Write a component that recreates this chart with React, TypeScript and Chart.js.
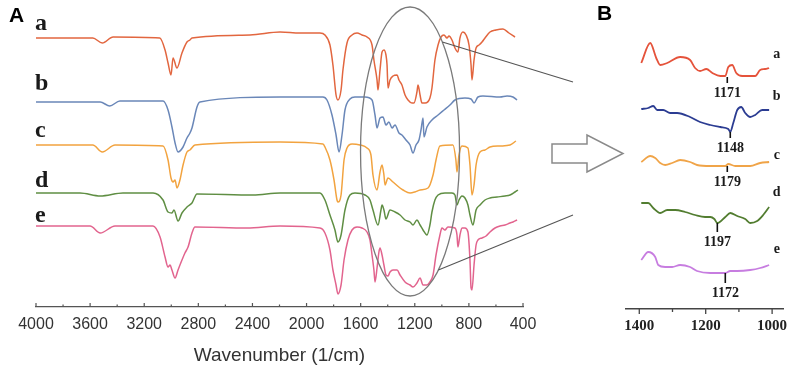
import React, { useEffect, useRef } from "react";
import { Chart, registerables } from "chart.js";
Chart.register(...registerables);

// ---------- Panel A: full FTIR spectra (wavenumber, offset transmittance) ----------
const specA_a: [number, number][] = [
  [4000, 269], [3580, 269], [3510, 264], [3430, 270], [3085, 269], [3046, 257], [3024, 244], [3002, 232],
  [2987, 249], [2958, 239], [2921, 254], [2884, 265], [2862, 267], [2847, 269], [2418, 272], [2196, 275],
  [2049, 274], [1901, 274], [1864, 272], [1827, 262], [1805, 242], [1782, 212], [1768, 207], [1745, 217],
  [1731, 237], [1701, 264], [1664, 272], [1627, 274], [1590, 272], [1553, 270], [1516, 262], [1502, 247],
  [1479, 227], [1472, 217], [1457, 237], [1442, 255], [1428, 257], [1413, 252], [1405, 242], [1398, 219],
  [1383, 227], [1361, 231], [1331, 232], [1317, 227], [1295, 222], [1272, 212], [1250, 207], [1221, 204],
  [1206, 204], [1184, 215], [1176, 222], [1161, 212], [1147, 204], [1124, 204], [1088, 209], [1073, 219],
  [1051, 247], [1028, 262], [1006, 270], [984, 272], [962, 269], [947, 271], [925, 267], [903, 259],
  [881, 255], [866, 269], [844, 275], [821, 272], [799, 262], [784, 242], [777, 227], [762, 247],
  [747, 259], [725, 262], [703, 265], [681, 269], [644, 275], [600, 277], [548, 278], [504, 274], [459, 270],
];
const specA_b: [number, number][] = [
  [4000, 205], [3525, 205], [3455, 201], [3380, 206], [3061, 206], [3024, 197], [2995, 180], [2972, 164],
  [2950, 155], [2913, 160], [2884, 169], [2862, 174], [2847, 179], [2810, 200], [2788, 205], [2196, 210],
  [1879, 210], [1849, 207], [1812, 192], [1782, 172], [1760, 155], [1738, 172], [1716, 197], [1679, 208],
  [1642, 210], [1568, 210], [1516, 207], [1494, 192], [1479, 179], [1457, 189], [1435, 190], [1413, 182],
  [1391, 185], [1368, 179], [1346, 182], [1317, 174], [1295, 172], [1265, 167], [1235, 162], [1213, 154],
  [1191, 162], [1169, 167], [1154, 177], [1139, 189], [1132, 170], [1110, 180], [1073, 187], [1028, 192],
  [984, 197], [940, 202], [903, 207], [829, 209], [784, 208], [762, 204], [733, 210], [696, 211],
  [570, 210], [518, 211], [474, 210], [444, 207],
];
const specA_c: [number, number][] = [
  [4000, 162], [3580, 162], [3510, 155], [3416, 162], [3061, 161], [3024, 147], [3002, 129], [2987, 125],
  [2972, 127], [2958, 119], [2936, 127], [2913, 142], [2884, 155], [2862, 157], [2825, 162], [2196, 165],
  [1879, 163], [1864, 160], [1827, 147], [1797, 127], [1775, 107], [1768, 105], [1745, 112], [1723, 147],
  [1701, 159], [1664, 163], [1605, 162], [1553, 159], [1524, 152], [1509, 132], [1479, 117], [1457, 135],
  [1442, 142], [1428, 132], [1420, 122], [1398, 129], [1361, 125], [1309, 119], [1287, 117], [1235, 114],
  [1199, 115], [1161, 117], [1102, 119], [1065, 132], [1043, 147], [1014, 161], [918, 162], [896, 147],
  [888, 135], [873, 152], [851, 161], [807, 159], [792, 142], [777, 112], [762, 122], [747, 142],
  [718, 155], [681, 157], [644, 160], [570, 161], [496, 162], [452, 166],
];
const specA_d: [number, number][] = [
  [4000, 114], [3675, 114], [3525, 111], [3357, 114], [3135, 114], [3061, 107], [3024, 95], [2995, 94],
  [2980, 97], [2950, 86], [2921, 94], [2884, 100], [2847, 104], [2810, 113], [2396, 112], [2196, 114],
  [1901, 114], [1864, 107], [1827, 92], [1790, 77], [1768, 65], [1745, 72], [1716, 97], [1679, 112],
  [1642, 114], [1568, 112], [1531, 107], [1509, 97], [1472, 82], [1450, 97], [1442, 102], [1428, 97],
  [1413, 88], [1383, 97], [1346, 95], [1309, 92], [1272, 87], [1235, 85], [1213, 82], [1184, 87],
  [1161, 82], [1139, 77], [1110, 72], [1088, 82], [1073, 95], [1051, 107], [1028, 112], [977, 114],
  [925, 114], [903, 112], [888, 102], [873, 107], [851, 111], [829, 109], [807, 102], [792, 92],
  [770, 82], [747, 97], [718, 102], [681, 107], [644, 109], [592, 110], [533, 111], [496, 112],
  [459, 115], [437, 117],
];
const specA_e: [number, number][] = [
  [4000, 81], [3600, 81], [3525, 74], [3416, 81], [3135, 81], [3083, 70], [3046, 50], [3024, 40],
  [3009, 42], [2995, 37], [2972, 29], [2950, 37], [2921, 47], [2899, 54], [2876, 60], [2847, 74],
  [2825, 80], [2440, 79], [2196, 81], [1901, 79], [1864, 74], [1827, 57], [1805, 37], [1782, 22],
  [1768, 13], [1745, 22], [1723, 47], [1694, 67], [1664, 77], [1627, 80], [1590, 79], [1553, 75],
  [1531, 67], [1516, 52], [1502, 37], [1494, 25], [1479, 39], [1465, 55], [1457, 59], [1442, 52],
  [1428, 42], [1413, 32], [1398, 31], [1383, 35], [1361, 37], [1331, 37], [1309, 32], [1272, 25],
  [1235, 22], [1213, 20], [1184, 24], [1161, 29], [1139, 22], [1110, 22], [1088, 25], [1065, 32],
  [1043, 52], [1014, 72], [999, 79], [977, 77], [955, 80], [903, 79], [888, 72], [881, 60],
  [866, 72], [851, 79], [829, 79], [807, 75], [792, 47], [784, 19], [777, 17], [762, 42],
  [747, 62], [733, 67], [703, 69], [673, 71], [644, 75], [607, 79], [570, 81], [533, 82],
  [496, 84], [474, 85], [444, 87],
];

// ---------- Panel B: zoom 1400-1000 cm-1 ----------
const specB_a: [number, number][] = [
  [1394, 246], [1367, 266], [1349, 251], [1337, 244], [1316, 246], [1277, 252], [1247, 249], [1232, 241],
  [1217, 238], [1198, 240], [1180, 236], [1156, 233], [1141, 233], [1132, 242], [1120, 244], [1108, 236],
  [1090, 233], [1051, 233], [1036, 239], [1021, 240], [1009, 241],
];
const specB_b: [number, number][] = [
  [1394, 200], [1373, 201], [1358, 203], [1346, 199], [1328, 199], [1307, 196], [1286, 196], [1247, 192],
  [1217, 187], [1186, 184], [1156, 182], [1132, 180], [1126, 177], [1117, 186], [1105, 199], [1093, 202],
  [1081, 196], [1066, 192], [1051, 194], [1030, 199], [1009, 199],
];
const specB_c: [number, number][] = [
  [1394, 147], [1367, 153], [1352, 151], [1337, 146], [1322, 144], [1301, 146], [1277, 149], [1247, 147],
  [1226, 144], [1186, 143], [1141, 143], [1132, 145], [1111, 143], [1066, 143], [1036, 146], [1009, 147],
];
const specB_d: [number, number][] = [
  [1394, 106], [1373, 106], [1358, 101], [1337, 96], [1316, 99], [1292, 99], [1262, 97], [1232, 94],
  [1202, 92], [1186, 92], [1174, 90], [1165, 86], [1141, 92], [1126, 96], [1105, 93], [1081, 90],
  [1066, 86], [1045, 88], [1027, 94], [1009, 102],
];
const specB_e: [number, number][] = [
  [1394, 49], [1373, 57], [1352, 52], [1343, 44], [1322, 42], [1301, 42], [1277, 44], [1247, 42],
  [1226, 38], [1186, 36], [1141, 36], [1126, 38], [1105, 38], [1066, 39], [1036, 41], [1009, 44],
];

const seriesNames = ["a", "b", "c", "d", "e"];
const colorsA = ["#e2663f", "#6a87b8", "#f2a33f", "#5f8e43", "#e2648e"];
const colorsB = ["#e5533b", "#2b3c92", "#f0a448", "#527d30", "#c77de0"];
const letterValsA = [277, 217, 170, 120, 85];
const letterValsB = [255, 213, 154, 117, 60];
const markWave = [1135, 1126, 1135, 1165, 1141];
const markTop = [232, 177, 143, 86, 36];
const markBottom = [226, 171, 137, 77, 26];
const markLabels = ["1171", "1148", "1179", "1197", "1172"];

const SANS = '"Liberation Sans", Arial, sans-serif';
const SERIF = '"Liberation Serif", "Times New Roman", serif';

const toXY = (arr: [number, number][]) => arr.map(([x, y]) => ({ x, y }));

export default function App() {
  const refA = useRef<HTMLCanvasElement>(null);
  const refB = useRef<HTMLCanvasElement>(null);

  useEffect(() => {
    const specsA = [specA_a, specA_b, specA_c, specA_d, specA_e];
    const specsB = [specB_a, specB_b, specB_c, specB_d, specB_e];

    const decoA = {
      id: "decoA",
      afterDraw(chart: any) {
        const { ctx, chartArea } = chart;
        const x = chart.scales.x;
        const y = chart.scales.y;
        ctx.save();
        // inward ticks
        ctx.strokeStyle = "#555";
        ctx.lineWidth = 1.2;
        x.ticks.forEach((t: any) => {
          const px = x.getPixelForValue(t.value);
          const len = t.value % 400 === 0 ? 4 : 2.5;
          ctx.beginPath();
          ctx.moveTo(px, chartArea.bottom);
          ctx.lineTo(px, chartArea.bottom - len);
          ctx.stroke();
        });
        // series letters
        ctx.fillStyle = "#1a1a1a";
        ctx.font = `bold 24px ${SERIF}`;
        ctx.textAlign = "left";
        ctx.textBaseline = "alphabetic";
        seriesNames.forEach((n, i) => {
          ctx.fillText(n, chartArea.left - 1, y.getPixelForValue(letterValsA[i]));
        });
        // ellipse around 1600-870 cm-1
        const cx = x.getPixelForValue(1235);
        const rx = Math.abs(x.getPixelForValue(1601) - cx);
        const cy = y.getPixelForValue(155.5);
        const ry = Math.abs(y.getPixelForValue(300) - cy);
        ctx.strokeStyle = "#7a7a7a";
        ctx.lineWidth = 1.3;
        ctx.beginPath();
        ctx.ellipse(cx, cy, rx, ry, 0, 0, Math.PI * 2);
        ctx.stroke();
        // connector lines
        const pt = (py: number) => {
          const t = (py - cy) / ry;
          return cx + rx * Math.sqrt(Math.max(0, 1 - t * t));
        };
        ctx.strokeStyle = "#555";
        ctx.lineWidth = 1.1;
        ctx.beginPath();
        ctx.moveTo(pt(42), 42);
        ctx.lineTo(573, 82);
        ctx.moveTo(pt(270), 270);
        ctx.lineTo(573, 215);
        ctx.stroke();
        // block arrow
        ctx.strokeStyle = "#8a8a8a";
        ctx.lineWidth = 1.5;
        ctx.beginPath();
        ctx.moveTo(552, 144);
        ctx.lineTo(587, 144);
        ctx.lineTo(587, 135);
        ctx.lineTo(623, 153.5);
        ctx.lineTo(587, 172);
        ctx.lineTo(587, 163);
        ctx.lineTo(552, 163);
        ctx.closePath();
        ctx.stroke();
        // panel labels
        ctx.fillStyle = "#000";
        ctx.font = `bold 21px ${SANS}`;
        ctx.textBaseline = "middle";
        ctx.fillText("A", 9, 16);
        ctx.fillText("B", 597, 14);
        ctx.restore();
      },
    };

    const decoB = {
      id: "decoB",
      afterDraw(chart: any) {
        const { ctx, chartArea } = chart;
        const x = chart.scales.x;
        const y = chart.scales.y;
        ctx.save();
        ctx.strokeStyle = "#444";
        ctx.lineWidth = 1.3;
        x.ticks.forEach((t: any) => {
          const px = x.getPixelForValue(t.value);
          const len = t.value % 200 === 0 ? 5 : 3;
          ctx.beginPath();
          ctx.moveTo(px, chartArea.bottom);
          ctx.lineTo(px, chartArea.bottom + len);
          ctx.stroke();
        });
        // markers
        ctx.strokeStyle = "#111";
        ctx.lineWidth = 1.6;
        ctx.fillStyle = "#1a1a1a";
        ctx.font = `bold 14px ${SERIF}`;
        ctx.textAlign = "center";
        ctx.textBaseline = "middle";
        markWave.forEach((w, i) => {
          const px = x.getPixelForValue(w);
          const y0 = y.getPixelForValue(markTop[i]);
          const y1 = y.getPixelForValue(markBottom[i]);
          ctx.beginPath();
          ctx.moveTo(px, y0);
          ctx.lineTo(px, y1);
          ctx.stroke();
          ctx.fillText(markLabels[i], px, y1 + 10);
        });
        // letters
        seriesNames.forEach((n, i) => {
          ctx.fillText(n, chartArea.right - 7, y.getPixelForValue(letterValsB[i]));
        });
        ctx.restore();
      },
    };

    const chartA = new Chart(refA.current!, {
      type: "line",
      data: {
        datasets: specsA.map((s, i) => ({
          label: seriesNames[i],
          data: toXY(s),
          borderColor: colorsA[i],
          borderWidth: 1.5,
          pointRadius: 0,
          fill: false,
          cubicInterpolationMode: "monotone" as const,
        })),
      },
      options: {
        responsive: false,
        animation: false,
        events: [],
        layout: { padding: { left: 36, right: 273, top: 5, bottom: 0 } },
        plugins: { legend: { display: false }, tooltip: { enabled: false } },
        scales: {
          x: {
            type: "linear",
            reverse: true,
            min: 400,
            max: 4000,
            afterFit: (s: any) => {
              s.height = 62;
            },
            grid: { display: false, drawTicks: false },
            border: { display: true, color: "#555", width: 1.3 },
            ticks: {
              stepSize: 200,
              autoSkip: false,
              maxRotation: 0,
              padding: 8,
              color: "#333",
              font: { family: SANS, size: 16 },
              callback: (v: any) => (Number(v) % 400 === 0 ? String(v) : ""),
            },
            title: {
              display: true,
              text: "Wavenumber (1/cm)",
              color: "#333",
              font: { family: SANS, size: 19 },
              padding: 2,
            },
          },
          y: { display: false, min: 0, max: 302 },
        },
      },
      plugins: [decoA],
    } as any);

    const chartB = new Chart(refB.current!, {
      type: "line",
      data: {
        datasets: specsB.map((s, i) => ({
          label: seriesNames[i],
          data: toXY(s),
          borderColor: colorsB[i],
          borderWidth: 1.8,
          pointRadius: 0,
          fill: false,
          cubicInterpolationMode: "monotone" as const,
        })),
      },
      options: {
        responsive: false,
        animation: false,
        events: [],
        layout: { padding: { left: 36, right: 12, top: 5, bottom: 0 } },
        plugins: { legend: { display: false }, tooltip: { enabled: false } },
        scales: {
          x: {
            type: "linear",
            reverse: true,
            min: 965,
            max: 1440,
            afterFit: (s: any) => {
              s.height = 60;
            },
            grid: { display: false, drawTicks: false },
            border: { display: true, color: "#444", width: 1.5 },
            ticks: {
              stepSize: 100,
              includeBounds: false,
              autoSkip: false,
              maxRotation: 0,
              padding: 8,
              color: "#222",
              font: { family: SERIF, size: 15, weight: "bold" },
              callback: (v: any) => (Number(v) % 200 === 0 ? String(v) : ""),
            },
          },
          y: { display: false, min: 0, max: 304 },
        },
      },
      plugins: [decoB],
    } as any);

    return () => {
      chartA.destroy();
      chartB.destroy();
    };
  }, []);

  return (
    <div style={{ position: "fixed", left: 0, top: 0, width: 796, height: 369, background: "#fff" }}>
      <canvas ref={refA} width={796} height={369} style={{ position: "absolute", left: 0, top: 0, width: 796, height: 369 }} />
      <canvas ref={refB} width={206} height={369} style={{ position: "absolute", left: 590, top: 0, width: 206, height: 369 }} />
    </div>
  );
}
